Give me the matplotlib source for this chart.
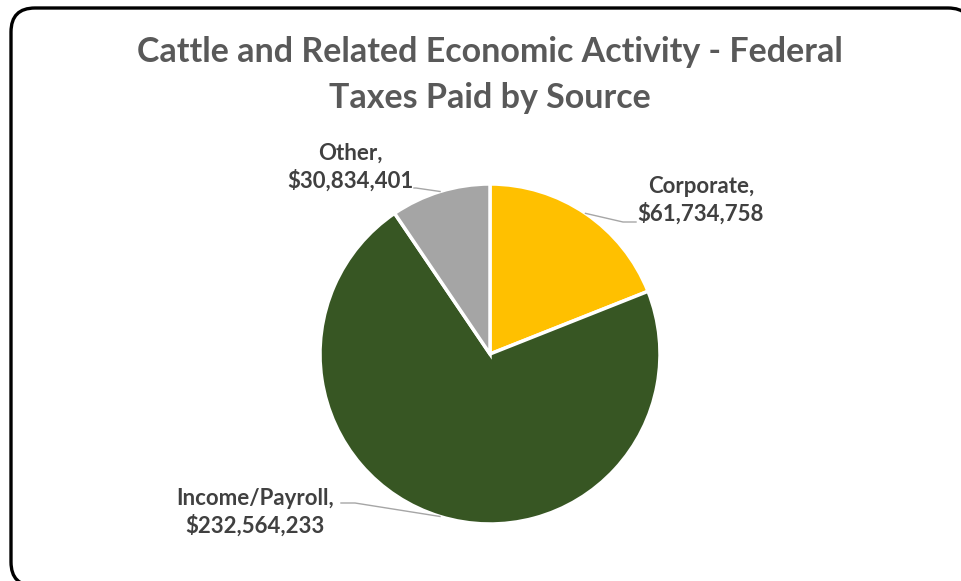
import numpy as np
import matplotlib
matplotlib.use('Agg')
from matplotlib import pyplot as plt
from matplotlib.patches import FancyBboxPatch

W, H = 961, 581

categories = ['Corporate', 'Income/Payroll', 'Other']
values = [61734758, 232564233, 30834401]
colors = ['#FFC000', '#375623', '#A5A5A5']
title = 'Cattle and Related Economic Activity - Federal\nTaxes Paid by Source'

# label centers and leader-line elbows, in pixels from the top left
label_pos = {'Corporate': (701, 200), 'Income/Payroll': (255, 512), 'Other': (350, 167)}
elbows = {'Corporate': [(623, 222), (636, 222)],
          'Income/Payroll': [(355, 503), (341, 503)],
          'Other': [(416, 188), (414, 188)]}

plt.rcParams['font.family'] = ['Lato', 'DejaVu Sans']


def px(x, y):
    return x, H - y


fig = plt.figure(figsize=(W / 100, H / 100), dpi=100)
ax = fig.add_axes([0, 0, 1, 1])
ax.set_xlim(0, W)
ax.set_ylim(0, H)
ax.set_aspect('equal')
ax.axis('off')

# rounded chart frame
frame = FancyBboxPatch(px(11, 586), 972 - 11, 586 - 8,
                       boxstyle='round,pad=0,rounding_size=24',
                       fc='white', ec='black', lw=2.4, zorder=0)
ax.add_patch(frame)

cx, cy = px(490, 354)
r = 170
wedges, _ = ax.pie(values, colors=colors, startangle=90, counterclock=False,
                   center=(cx, cy), radius=r, frame=True,
                   wedgeprops=dict(edgecolor='white', linewidth=2.5))
ax.set_xlim(0, W)
ax.set_ylim(0, H)
ax.axis('off')

for w, name, val in zip(wedges, categories, values):
    mid = np.deg2rad((w.theta1 + w.theta2) / 2)
    sx, sy = cx + r * np.cos(mid), cy + r * np.sin(mid)
    pts = [(sx, sy)] + [px(*p) for p in elbows[name]]
    ax.plot([p[0] for p in pts], [p[1] for p in pts], color='#A6A6A6', lw=1, zorder=3)
    lx, ly = px(*label_pos[name])
    ax.text(lx, ly, f'{name},\n${val:,}', ha='center', va='center', fontsize=16,
            fontweight='bold', color='#404040', linespacing=1.3, zorder=4)

ax.text(490, H - 75, title, ha='center', va='center', fontsize=24.5, fontweight='bold',
        color='#595959', linespacing=1.5)

fig.savefig('out.png', dpi=100)
